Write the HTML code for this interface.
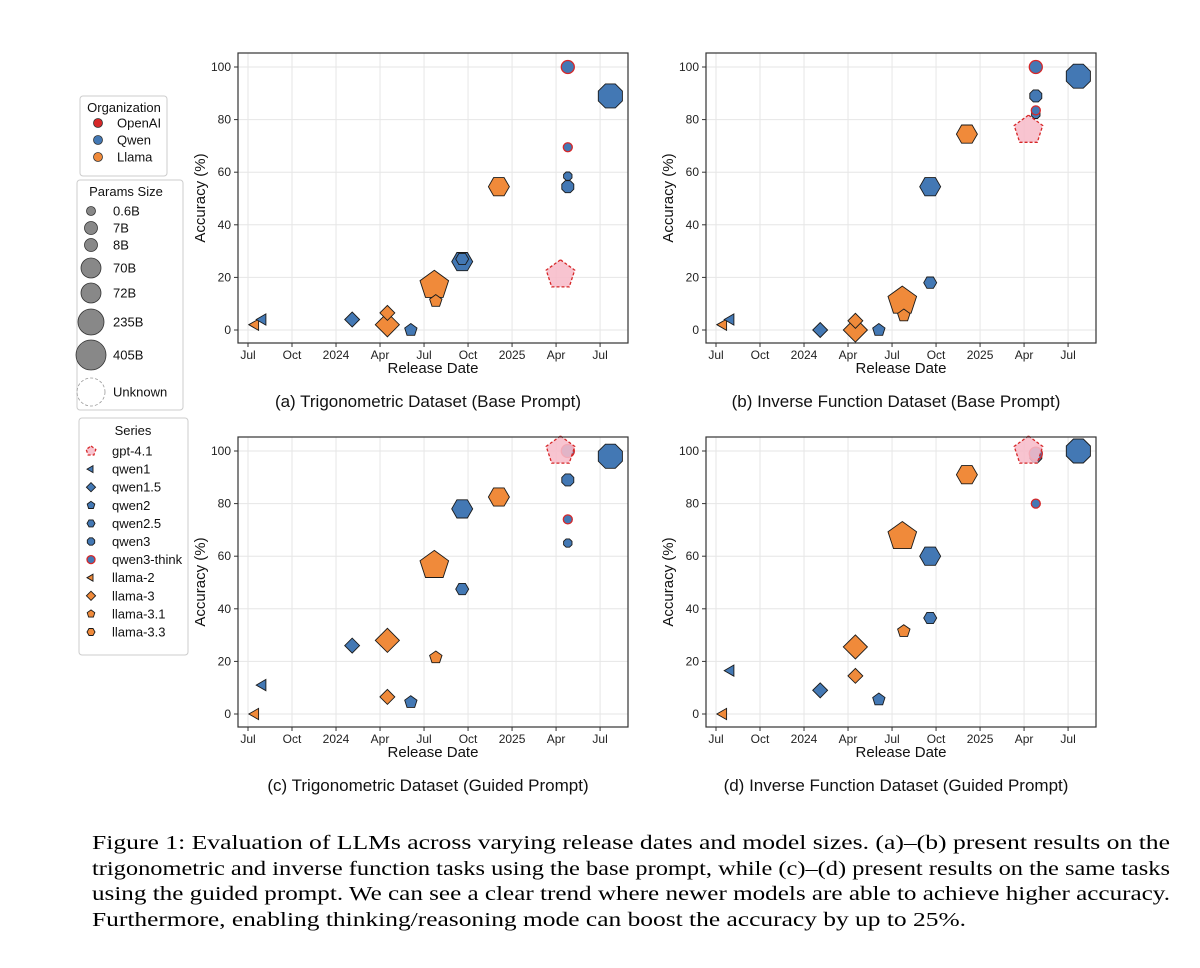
<!DOCTYPE html>
<html><head><meta charset="utf-8"><style>
html,body{margin:0;padding:0;background:#fff;}
svg{display:block;font-family:"Liberation Sans","DejaVu Sans",sans-serif;}
</style></head><body>
<svg id="fig" width="1200" height="968" viewBox="0 0 1200 968" xmlns="http://www.w3.org/2000/svg">
<g id="legends"></g>
<g id="panels"></g>
<g id="caption" font-family="Liberation Serif, serif" font-size="20" fill="#000">
<text x="92" y="849" textLength="1078" lengthAdjust="spacingAndGlyphs">Figure 1: Evaluation of LLMs across varying release dates and model sizes. (a)–(b) present results on the</text>
<text x="92" y="875" textLength="1078" lengthAdjust="spacingAndGlyphs">trigonometric and inverse function tasks using the base prompt, while (c)–(d) present results on the same tasks</text>
<text x="92" y="900" textLength="1078" lengthAdjust="spacingAndGlyphs">using the guided prompt. We can see a clear trend where newer models are able to achieve higher accuracy.</text>
<text x="92" y="926" textLength="874" lengthAdjust="spacingAndGlyphs">Furthermore, enabling thinking/reasoning mode can boost the accuracy by up to 25%.</text>
</g>
</svg>
<script>
// ---- data ----
const xTickLabels = ["Jul","Oct","2024","Apr","Jul","Oct","2025","Apr","Jul"];
const xTickMonths = [0,3,6,9,12,15,18,21,24];
const yTicks = [0,20,40,60,80,100];
const panelTitles = ["(a) Trigonometric Dataset (Base Prompt)","(b) Inverse Function Dataset (Base Prompt)","(c) Trigonometric Dataset (Guided Prompt)","(d) Inverse Function Dataset (Guided Prompt)"];
// points: series, size, release month (months since Jul 2023)
const pointSeries = ["llama-2","qwen1","qwen1.5","llama-3","llama-3","qwen2","llama-3.1","llama-3.1","qwen2.5","qwen2.5","llama-3.3","gpt-4.1","qwen3","qwen3","qwen3-think","qwen3-think","qwen3"];
const pointSizes  = ["7B","7B","7B","8B","70B","7B","405B","8B","72B","7B","70B","Unknown","0.6B","8B","0.6B","8B","235B"];
const pointMonths = [0.5,1.0,7.1,9.5,9.5,11.1,12.7,12.8,14.6,14.6,17.1,21.3,21.8,21.8,21.8,21.8,24.7];
const accA = [2,4,4,6.5,2,0,17,11,26,27,54.5,21,58.5,54.5,69.5,100,89];
const accB = [2,4,0,3.5,0,0,11,5.5,54.5,18,74.5,76,82,89,83.5,100,96.5];
const accC = [0,11,26,6.5,28,4.5,56.5,21.5,78,47.5,82.5,100,65,89,74,100,98];
const accD = [0,16.5,9,14.5,25.5,5.5,67.5,31.5,60,36.5,91,100,80,98,80,99,100];
const panelData = [accA,accB,accC,accD];

// ---- styles ----
const BLUE="#4378b4", ORANGE="#f08a3a", RED="#d62728", PINK="#f7bcc9";
const sizeR = {"0.6B":4.5,"7B":6.5,"8B":6.5,"70B":10.5,"72B":10.5,"235B":13,"405B":15,"Unknown":15};
const seriesStyle = {
 "gpt-4.1":{shape:"pent",fill:PINK,stroke:RED,dash:true},
 "qwen1":{shape:"tri",fill:BLUE},"qwen1.5":{shape:"diam",fill:BLUE},"qwen2":{shape:"pent",fill:BLUE},
 "qwen2.5":{shape:"hex",fill:BLUE},"qwen3":{shape:"oct",fill:BLUE},"qwen3-think":{shape:"circ",fill:BLUE,stroke:RED},
 "llama-2":{shape:"tri",fill:ORANGE},"llama-3":{shape:"diam",fill:ORANGE},"llama-3.1":{shape:"pent",fill:ORANGE},"llama-3.3":{shape:"hex",fill:ORANGE}
};
const NS="http://www.w3.org/2000/svg";
function el(tag,attrs,parent){const e=document.createElementNS(NS,tag);for(const k in attrs)e.setAttribute(k,attrs[k]);if(parent)parent.appendChild(e);return e;}
function polyPts(cx,cy,r,n,rot){let p=[];for(let i=0;i<n;i++){const a=rot+i*2*Math.PI/n;p.push((cx+r*Math.cos(a)).toFixed(1)+","+(cy+r*Math.sin(a)).toFixed(1));}return p.join(" ");}
function marker(parent,shape,cx,cy,r,fill,stroke,dash){
 let e, st=stroke||"#1a1a1a";
 if(shape==="circ") e=el("circle",{cx:cx,cy:cy,r:r},parent);
 else{
  let n,rot;
  if(shape==="tri"){n=3;rot=Math.PI;}
  else if(shape==="diam"){n=4;rot=0;r*=1.15;}
  else if(shape==="pent"){n=5;rot=-Math.PI/2;}
  else if(shape==="hex"){n=6;rot=0;}
  else {n=8;rot=Math.PI/8;}
  e=el("polygon",{points:polyPts(cx,cy,r,n,rot)},parent);
 }
 e.setAttribute("fill",fill);e.setAttribute("stroke",st);e.setAttribute("stroke-width",stroke?1.3:0.9);
 if(dash){e.setAttribute("stroke-dasharray","3,2");e.setAttribute("fill-opacity","0.88");}
 return e;
}

// ---- panels ----
const panelsG=document.getElementById("panels");
const offsets=[[0,0],[468,0],[0,384],[468,384]];
panelData.forEach((acc,pi)=>{
 const [ox,oy]=offsets[pi];
 const g=el("g",{},panelsG);
 
 
 const L=238+ox,R=628+ox,T=53+oy,B=343+oy;
 const xs=m=>248+ox+m*14.67;
 const ys=v=>330+oy-v*2.63;
 xTickMonths.forEach((m,i)=>{
  const gl=el("line",{x1:xs(m),x2:xs(m),y1:T,y2:B,stroke:"#e6e6e6","stroke-width":1},g);
  
  
  el("line",{x1:xs(m),x2:xs(m),y1:B,y2:B+4,stroke:"#333"},g);
  const t=el("text",{x:xs(m),y:B+16,"text-anchor":"middle","font-size":12,fill:"#222"},g);
  t.textContent=xTickLabels[i];
  
  
 });
 yTicks.forEach(v=>{
  const gl=el("line",{x1:L,x2:R,y1:ys(v),y2:ys(v),stroke:"#e6e6e6","stroke-width":1},g);
  
  
  el("line",{x1:L-4,x2:L,y1:ys(v),y2:ys(v),stroke:"#333"},g);
  const t=el("text",{x:L-7,y:ys(v)+4,"text-anchor":"end","font-size":12,fill:"#222"},g);
  t.textContent=v;
  
  
 });
 // points: larger first, gpt-4.1 drawn last (on top)
 const order=acc.map((_,i)=>i).sort((a,b)=>{
  const ga=pointSeries[a]==="gpt-4.1"?1:0, gb=pointSeries[b]==="gpt-4.1"?1:0;
  if(ga!==gb) return ga-gb;
  return sizeR[pointSizes[b]]-sizeR[pointSizes[a]];
 });
 order.forEach(i=>{
  const s=seriesStyle[pointSeries[i]];
  const m=marker(g,s.shape,xs(pointMonths[i]),ys(acc[i]),sizeR[pointSizes[i]],s.fill,s.stroke,s.dash);
  
  
 });
 const fr=el("rect",{x:L,y:T,width:R-L,height:B-T,fill:"none",stroke:"#333","stroke-width":1.2},g);
 
 
 const xl=el("text",{x:(L+R)/2,y:B+30,"text-anchor":"middle","font-size":15,fill:"#111"},g);
 xl.textContent="Release Date";
 
 
 const yl=el("text",{x:0,y:0,"text-anchor":"middle","font-size":15,fill:"#111",transform:`translate(${L-33},${(T+B)/2}) rotate(-90)`},g);
 yl.textContent="Accuracy (%)";
 
 
 const pt=el("text",{x:(L+R)/2-5,y:B+64,"text-anchor":"middle","font-size":17,fill:"#111"},g);
 pt.textContent=panelTitles[pi];
 
 
});

// ---- legends ----
const lg=document.getElementById("legends");
function box(x,y,w,h,name){const r=el("rect",{x:x,y:y,width:w,height:h,rx:3,fill:"#fff",stroke:"#ccc","stroke-width":1},lg);}
function txt(x,y,s,anchor){const t=el("text",{x:x,y:y,"font-size":13,fill:"#111","text-anchor":anchor||"start"},lg);t.textContent=s;return t;}
const orgNames=["OpenAI","Qwen","Llama"], orgColors=[RED,BLUE,ORANGE];
box(80,96,87,80,"organization-legend");
txt(124,112,"Organization","middle");
orgNames.forEach((n,i)=>{const y=123+i*17;const c=el("circle",{cx:98,cy:y,r:4.5,fill:orgColors[i],stroke:"#333","stroke-width":0.8},lg);txt(117,y+4.5,n);});
const pLabels=["0.6B","7B","8B","70B","72B","235B","405B","Unknown"];
const pY=[211,228,245,268,293,322,355,392];
const pR=[4.5,6.5,6.5,10,10,13,15,14];
box(77,180,106,230,"params-size-legend");
txt(126,196,"Params Size","middle");
pLabels.forEach((n,i)=>{const c=el("circle",{cx:91,cy:pY[i],r:pR[i],fill:i<7?"#888":"none",stroke:i<7?"#333":"#999","stroke-width":0.8},lg);if(i===7)c.setAttribute("stroke-dasharray","3,2");txt(113,pY[i]+4.5,n);});
const sNames=Object.keys(seriesStyle);
box(79,418,109,237,"series-legend");
txt(133,435,"Series","middle");
sNames.forEach((n,i)=>{const y=451+i*18.1;const s=seriesStyle[n];const m=marker(lg,s.shape,91,y,n==="gpt-4.1"?5:4,s.fill,s.stroke,s.dash);txt(112,y+4.5,n);});
</script>
</body></html>
